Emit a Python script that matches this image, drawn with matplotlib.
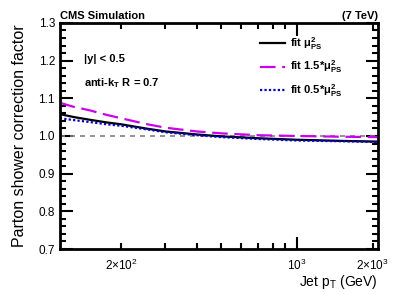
import matplotlib.pyplot as plt
from matplotlib.ticker import FixedLocator, FuncFormatter

plt.rcParams['font.family'] = ['Liberation Sans', 'DejaVu Sans']
plt.rcParams['mathtext.fontset'] = 'custom'
plt.rcParams['mathtext.rm'] = 'Liberation Sans'
plt.rcParams['mathtext.it'] = 'Liberation Sans'
plt.rcParams['mathtext.bf'] = 'Liberation Sans:bold'

# values
pt = [114, 130, 150, 175, 200, 250, 300, 400, 500, 700, 1000, 1500, 2100]
fit_nom = [1.058, 1.050, 1.043, 1.036, 1.031, 1.020, 1.012, 1.004, 0.999, 0.994, 0.990, 0.987, 0.985]
fit_hi = [1.088, 1.077, 1.068, 1.056, 1.047, 1.032, 1.022, 1.012, 1.007, 1.002, 1.000, 0.998, 0.997]
fit_lo = [1.047, 1.042, 1.037, 1.031, 1.027, 1.018, 1.010, 1.002, 0.997, 0.992, 0.988, 0.986, 0.984]

fig = plt.figure(figsize=(3.99, 2.94), dpi=100)
ax = fig.add_axes([0.150, 0.153, 0.797, 0.769])

ax.axhline(1.0, color='gray', linestyle=(0, (3, 3)), linewidth=1.2)
ax.plot(pt, fit_nom, color='black', linewidth=1.6, label=r'fit $\mathbf{\mu^{2}_{PS}}$')
ax.plot(pt, fit_hi, color='#cc00ee', linewidth=1.6, linestyle=(0, (7, 3)), label=r'fit 1.5*$\mathbf{\mu^{2}_{PS}}$')
ax.plot(pt, fit_lo, color='#0000dd', linewidth=1.6, linestyle=(0, (1, 1)), label=r'fit 0.5*$\mathbf{\mu^{2}_{PS}}$')

ax.set_xscale('log')
ax.set_xlim(114, 2100)
ax.set_ylim(0.7, 1.3)

ax.xaxis.set_major_locator(FixedLocator([1000]))
ax.xaxis.set_minor_locator(FixedLocator([200, 300, 400, 500, 600, 700, 800, 900, 2000]))
labels = {200: r'2$\times$10$^{2}$', 1000: r'10$^{3}$', 2000: r'2$\times$10$^{3}$'}
fmt = FuncFormatter(lambda v, p: labels.get(int(round(v)), ''))
ax.xaxis.set_major_formatter(fmt)
ax.xaxis.set_minor_formatter(fmt)

ax.set_yticks([0.7, 0.8, 0.9, 1.0, 1.1, 1.2, 1.3])
ax.set_yticks([0.7 + 0.02 * i for i in range(31)], minor=True)
ax.yaxis.set_major_formatter(FuncFormatter(lambda v, p: f'{v:.1f}'))

ax.tick_params(which='both', direction='in', top=True, right=True, width=1.5, labelsize=8.5, colors='black')
ax.tick_params(which='major', length=9)
ax.tick_params(which='minor', length=4.5)
ax.tick_params(axis='x', which='both', pad=6)
for s in ax.spines.values():
    s.set_linewidth(2)

ax.set_ylabel('Parton shower correction factor', fontsize=11.5, labelpad=8)
ax.set_xlabel(r'Jet p$_{T}$ (GeV)', fontsize=10, loc='right', labelpad=0)

fig.text(0.150, 0.930, 'CMS Simulation', fontsize=8, fontweight='bold', ha='left', va='bottom')
fig.text(0.947, 0.930, '(7 TeV)', fontsize=8, fontweight='bold', ha='right', va='bottom')
ax.text(0.075, 0.84, r'|y| < 0.5', transform=ax.transAxes, fontsize=8, fontweight='bold', va='center')
ax.text(0.075, 0.735, r'anti-k$_{\mathbf{T}}$ R = 0.7', transform=ax.transAxes, fontsize=8, fontweight='bold', va='center')

ax.legend(loc='upper right', bbox_to_anchor=(0.92, 0.99), frameon=False,
          handlelength=2.2, handletextpad=0.5, labelspacing=0.6,
          prop={'weight': 'bold', 'size': 8})

fig.savefig('out.png', dpi=100)
